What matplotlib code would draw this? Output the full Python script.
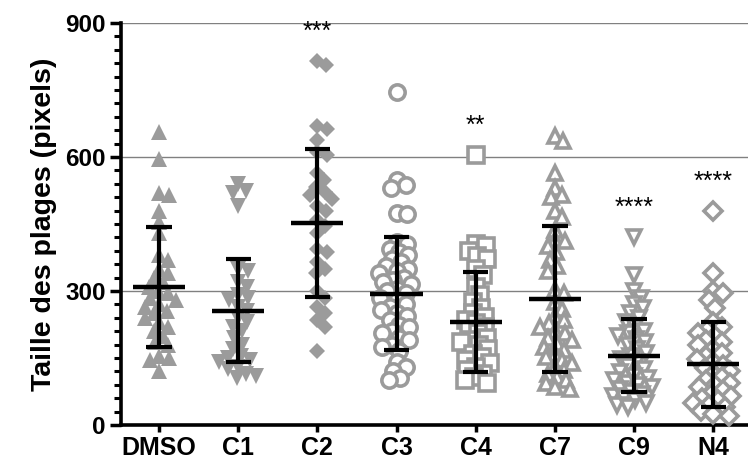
import numpy as np
import matplotlib
matplotlib.use('Agg')
import matplotlib.pyplot as plt
from matplotlib.ticker import MultipleLocator

plt.rcParams['font.family'] = ['Liberation Sans', 'DejaVu Sans']

categories = ['DMSO', 'C1', 'C2', 'C3', 'C4', 'C7', 'C9', 'N4']

dmso = [655, 595, 520, 515, 480, 455, 430, 380, 370, 350, 340, 330, 320, 310, 300, 295,
        285, 280, 270, 265, 255, 250, 240, 230, 220, 210, 200, 185, 180, 155, 150, 145, 120]
c1 = [540, 525, 520, 490, 350, 345, 320, 310, 290, 285, 280, 265, 255, 240, 230, 220,
      210, 195, 180, 170, 155, 150, 145, 140, 130, 125, 115, 110, 105]
c2 = [815, 805, 670, 662, 638, 612, 605, 565, 548, 533, 522, 515, 505, 490, 480, 460, 445,
      430, 395, 388, 365, 350, 340, 300, 285, 265, 250, 235, 220, 165]
c3 = [745, 548, 537, 531, 475, 472, 410, 405, 395, 388, 380, 372, 365, 355, 350, 345, 340,
      330, 325, 320, 315, 305, 300, 295, 285, 280, 270, 265, 258, 250, 245, 235, 225, 220,
      210, 205, 195, 190, 180, 175, 165, 140, 130, 120, 105, 100]
c4 = [605, 405, 400, 390, 378, 372, 350, 335, 310, 290, 275, 262, 250, 242, 235, 228, 220,
      212, 205, 195, 190, 185, 178, 170, 160, 152, 145, 139, 130, 123, 115, 108, 100, 95]
c7 = [648, 635, 565, 530, 515, 510, 480, 465, 437, 415, 412, 400, 388, 370, 355, 345, 303,
      295, 275, 260, 245, 235, 228, 220, 210, 205, 195, 190, 184, 175, 168, 160, 152, 145,
      139, 130, 123, 115, 107, 100, 94, 85, 80]
c9 = [420, 335, 300, 285, 270, 262, 250, 240, 230, 220, 210, 205, 200, 192, 185, 178, 170,
      162, 155, 148, 140, 132, 125, 118, 110, 105, 100, 95, 90, 85, 80, 75, 70, 65, 60, 55,
      50, 45, 40]
n4 = [480, 340, 300, 295, 280, 262, 230, 220, 212, 205, 200, 190, 185, 178, 170, 162, 155,
      148, 140, 135, 128, 120, 115, 108, 100, 95, 90, 85, 78, 70, 65, 60, 55, 50, 45, 40,
      32, 25, 20]

means = [309.5, 256, 452.5, 294, 230.5, 282, 155, 136]
sds = [134.5, 115, 165.5, 126, 112.5, 164, 82, 95]
significance = ['', '', '***', '', '**', '', '****', '****']

groups = [dmso, c1, c2, c3, c4, c7, c9, n4]
markers = ['^', 'v', 'D', 'o', 's', '^', 'v', 'D']
filled = [True, True, True, False, False, False, False, False]
msizes = [11.5, 11.5, 7.8, 11.0, 11.0, 10.5, 10.5, 9.0]

gray = '#9b9b9b'

W, H = 748, 474
fig = plt.figure(figsize=(W / 100, H / 100), dpi=100)
left_px, right_px, top_px, bot_px = 121, 748, 23, 425
ax = fig.add_axes([left_px / W, 1 - bot_px / H, (right_px - left_px) / W, (bot_px - top_px) / H])
ax.set_ylim(0, 900)
ax.set_xlim(-0.48, 7.44)

ypx = (bot_px - top_px) / 900.0
xpx = (right_px - left_px) / (7.44 + 0.48)


def swarm(vals, d, maxoff=22):
    vals = np.asarray(vals, float)
    order = np.argsort(-vals)
    cand = np.arange(0, 60, 1.0)
    cand = np.concatenate([[0], np.ravel(np.column_stack([cand[1:], -cand[1:]]))])
    placed = []
    offs = np.zeros(len(vals))
    for i in order:
        y = vals[i] * ypx
        best = None
        for c in cand:
            ok = True
            for (px, py) in placed:
                if (c - px) ** 2 + (y - py) ** 2 < d * d:
                    ok = False
                    break
            if ok:
                best = c
                break
        if best is None or abs(best) > maxoff:
            # fall back: least crowded spot within the allowed width
            opts = [c for c in cand if abs(c) <= maxoff]
            best = max(opts, key=lambda c: min([(c - px) ** 2 + (y - py) ** 2 for (px, py) in placed] + [1e9]))
        offs[i] = best
        placed.append((best, y))
    return offs


for i, g in enumerate(groups):
    d = 10 if filled[i] else 9.5
    offs = swarm(g, d) / xpx
    xs = i + offs
    if filled[i]:
        ax.plot(xs, g, linestyle='none', marker=markers[i], ms=msizes[i],
                mfc=gray, mec=gray, mew=0, zorder=3, clip_on=False)
    else:
        ax.plot(xs, g, linestyle='none', marker=markers[i], ms=msizes[i],
                mfc='white', mec=gray, mew=2.6, zorder=3, clip_on=False)

# mean +/- SD
for i in range(len(categories)):
    m, s = means[i], sds[i]
    ax.plot([i, i], [m - s, m + s], color='black', lw=3, zorder=5, solid_capstyle='butt')
    ax.plot([i - 0.33, i + 0.33], [m, m], color='black', lw=3.2, zorder=5, solid_capstyle='butt')
    for yv in (m - s, m + s):
        ax.plot([i - 0.16, i + 0.16], [yv, yv], color='black', lw=3, zorder=5, solid_capstyle='butt')
    if significance[i]:
        ax.annotate(significance[i], xy=(i, max(groups[i])), xytext=(0, 16),
                    textcoords='offset points', ha='center', va='baseline',
                    fontsize=18, color='black', zorder=6, annotation_clip=False)

ax.set_xticks(range(len(categories)))
ax.set_xticklabels(categories, fontsize=18, fontweight='bold')
ax.set_yticks([0, 300, 600, 900])
ax.set_yticklabels(['0', '300', '600', '900'], fontsize=17.5, fontweight='bold')
ax.yaxis.set_minor_locator(MultipleLocator(30))
ax.tick_params(axis='y', which='major', length=8, width=2.5, direction='out', pad=3)
ax.tick_params(axis='y', which='minor', length=5, width=2.2, direction='out')
ax.tick_params(axis='x', which='major', length=5, width=2.5, direction='out', pad=3)

ax.grid(axis='y', which='major', color='#808080', lw=1.0, zorder=0)
ax.set_axisbelow(True)
for sp in ['top', 'right']:
    ax.spines[sp].set_visible(False)
for sp in ['left', 'bottom']:
    ax.spines[sp].set_linewidth(2.6)

ax.set_ylabel('Taille des plages (pixels)', fontsize=20.5, fontweight='bold', labelpad=6)

fig.savefig('out.png', dpi=100)
